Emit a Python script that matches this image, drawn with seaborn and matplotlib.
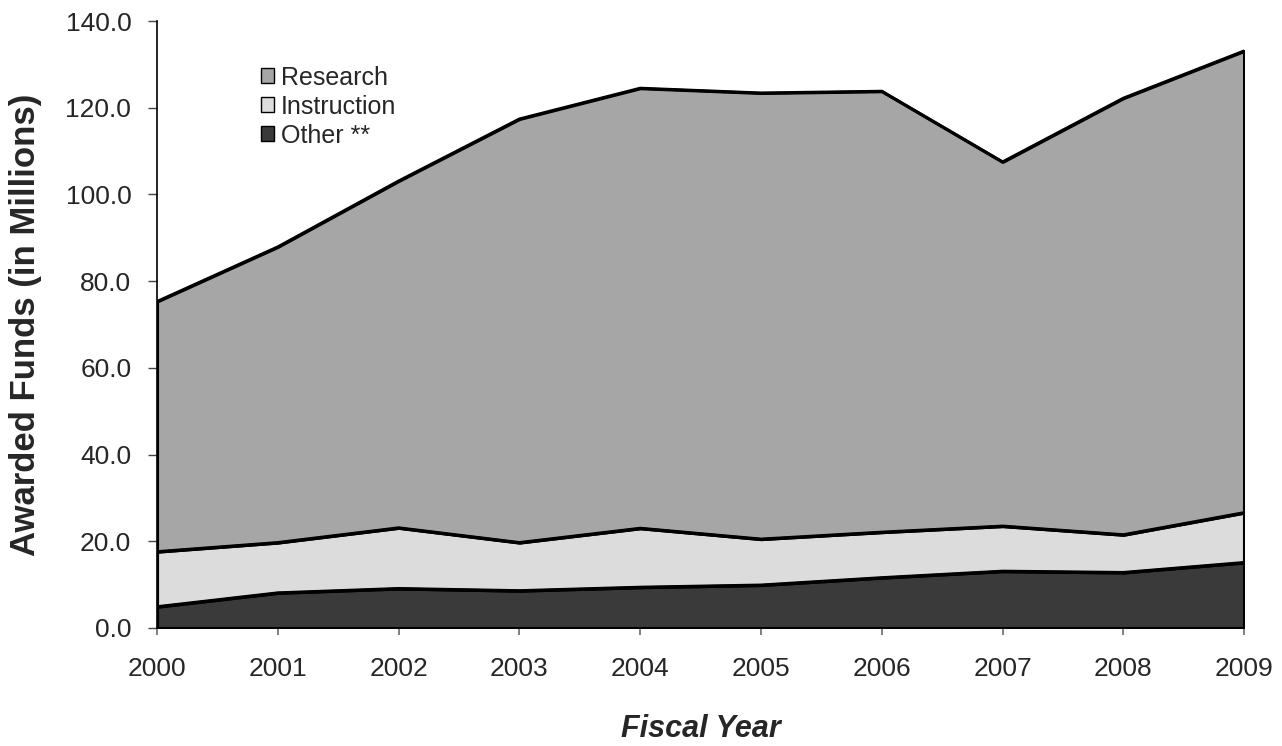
import numpy as np
import matplotlib
matplotlib.use("Agg")
import matplotlib.pyplot as plt
import seaborn as sns
from matplotlib.patches import Patch

# values (millions)
years = [2000, 2001, 2002, 2003, 2004, 2005, 2006, 2007, 2008, 2009]
other = [4.9, 8.1, 9.1, 8.6, 9.4, 9.9, 11.6, 13.1, 12.8, 15.1]
instruction = [12.7, 11.6, 14.0, 11.1, 13.6, 10.6, 10.5, 10.4, 8.7, 11.5]
research = [57.7, 68.2, 80.0, 97.7, 101.5, 102.9, 101.7, 84.0, 100.7, 106.5]

y_ticks = [0, 20, 40, 60, 80, 100, 120, 140]

sns.set_style("white")
plt.rcParams['font.family'] = ['Liberation Sans', 'DejaVu Sans']

fig = plt.figure(figsize=(12.82, 7.46), dpi=100)
ax = fig.add_axes([0.1225, 0.1582, 0.848, 0.8136])

colors = ['#3a3a3a', '#dcdcdc', '#a6a6a6']
ax.stackplot(years, other, instruction, research, colors=colors,
             edgecolor='black', linewidth=2.2)

# boundary lines on top of the fills
lower = np.array(other)
mid = lower + np.array(instruction)
top = mid + np.array(research)
for vals in (lower, mid, top):
    sns.lineplot(x=years, y=vals, ax=ax, color='black', linewidth=2.2)
ax.plot([years[-1], years[-1]], [0, top[-1]], color='black', linewidth=2.2)

ax.set_xlim(2000, 2009)
ax.set_ylim(0, 140)
ax.set_xticks(years)
ax.set_xticklabels([str(y) for y in years], fontsize=19)
ax.set_yticks(y_ticks)
ax.set_yticklabels([f"{v:.1f}" for v in y_ticks], fontsize=19)
ax.tick_params(axis='y', direction='out', length=6.5, width=1, color='#444444',
               left=True, pad=12)
ax.tick_params(axis='x', direction='out', length=5, width=1.3, color='#777777',
               bottom=True, pad=16)

for s in ['top', 'right']:
    ax.spines[s].set_visible(False)
for s in ['left', 'bottom']:
    ax.spines[s].set_color('black')
    ax.spines[s].set_linewidth(1.2)

ax.set_ylabel("Awarded Funds (in Millions)", fontsize=25, fontweight='bold')
ax.yaxis.set_label_coords(-0.106, 0.5)
ax.set_xlabel("Fiscal Year", fontsize=22, fontweight='bold', style='italic')
ax.xaxis.set_label_coords(0.5, -0.142)

handles = [Patch(facecolor=colors[2], edgecolor='black', label='Research'),
           Patch(facecolor=colors[1], edgecolor='black', label='Instruction'),
           Patch(facecolor=colors[0], edgecolor='black', label='Other **')]
ax.legend(handles=handles, loc='upper left', bbox_to_anchor=(0.086, 0.943),
          frameon=False, fontsize=18, handlelength=0.55, handleheight=0.55,
          handletextpad=0.25, labelspacing=0.2, borderaxespad=0)

fig.savefig("out.png", dpi=100)
